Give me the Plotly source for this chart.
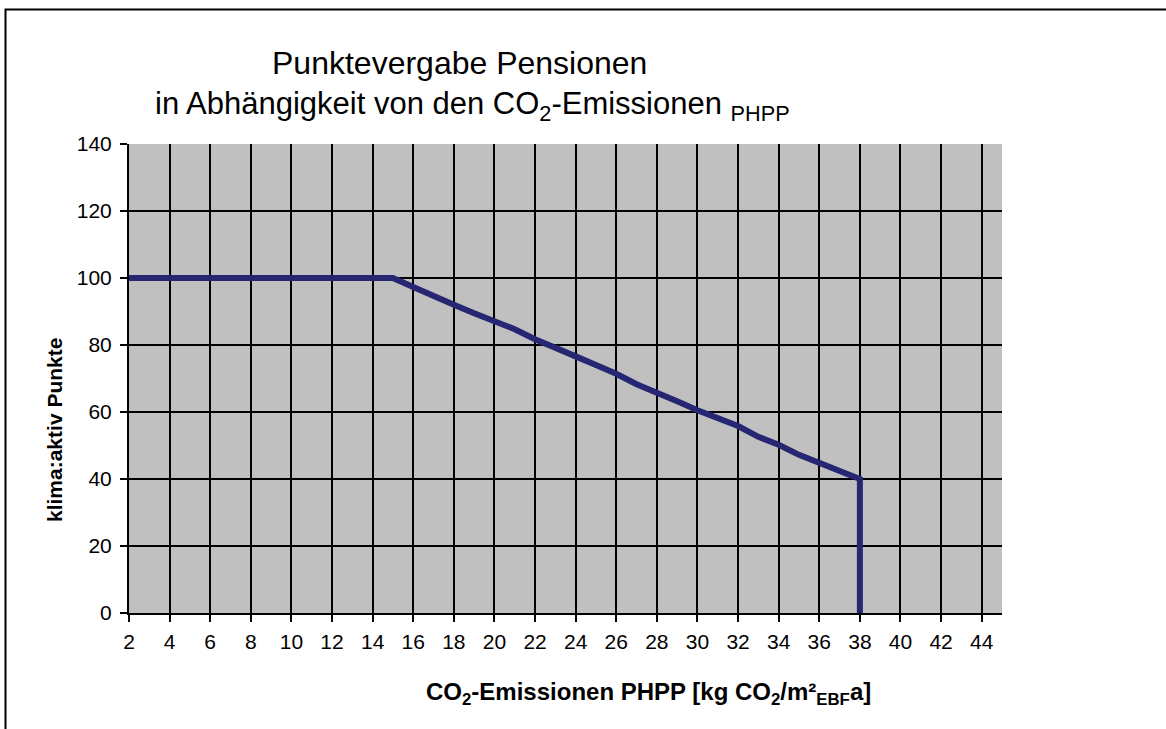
import plotly.graph_objects as go

# CO2-Emissionen PHPP [kg CO2/m²EBF a] und klima:aktiv Punkte
emissionen = [2, 3, 4, 5, 6, 7, 8, 9, 10, 11, 12, 13, 14, 15,
              16, 17, 18, 19, 20, 21, 22, 23, 24, 25, 26, 27,
              28, 29, 30, 31, 32, 33, 34, 35, 36, 37, 38, 38]
punkte = [100, 100, 100, 100, 100, 100, 100, 100, 100, 100, 100, 100, 100, 100,
          97.3, 94.5, 92, 89.5, 87, 84.7, 81.7, 79.3, 76.6, 74, 71.4, 68.3,
          65.9, 63.2, 60.5, 58.1, 55.8, 52.6, 50.2, 47.2, 44.8, 42.6, 40, 0]

x_ticks = list(range(2, 45, 2))
y_ticks = list(range(0, 141, 20))

W, H = 1166, 729
L, R, T, B = 129, 164, 144, 116
pw, ph = W - L - R, H - T - B


def px(x):
    return (x - L) / pw


def py(y):
    return (H - B - y) / ph


font = "Liberation Sans, Arial, sans-serif"
axis_style = dict(ticks='outside', ticklen=7, tickwidth=2, tickcolor='black',
                  showgrid=True, gridcolor='black', gridwidth=2,
                  showline=True, linecolor='black', linewidth=2,
                  zeroline=False, fixedrange=True,
                  tickfont=dict(size=21, family=font, color='black'))

fig = go.Figure()
fig.add_trace(go.Scatter(x=emissionen, y=punkte, mode='lines',
                         line=dict(color='#262673', width=6), showlegend=False))

fig.update_layout(
    width=W, height=H,
    margin=dict(l=L, r=R, t=T, b=B),
    paper_bgcolor='white',
    plot_bgcolor='#C0C0C0',
    font=dict(family=font, size=21, color='black'),
    xaxis=dict(range=[2, 45], tickvals=x_ticks, ticklabelstandoff=2, **axis_style),
    yaxis=dict(range=[0, 140], tickvals=y_ticks, ticklabelstandoff=4, **axis_style),
    shapes=[dict(type='rect', xref='paper', yref='paper',
                 x0=px(5.5), x1=px(1175), y0=py(9.5), y1=py(740),
                 line=dict(color='black', width=2), fillcolor='rgba(0,0,0,0)',
                 layer='above')],
    annotations=[
        dict(text='Punktevergabe Pensionen',
             xref='paper', yref='paper', x=px(459), y=py(43), xanchor='center',
             yanchor='top', showarrow=False, font=dict(size=32, family=font)),
        dict(text='in Abhängigkeit von den CO<sub>2</sub>-Emissionen <sub>PHPP</sub>',
             xref='paper', yref='paper', x=px(472), y=py(84), xanchor='center',
             yanchor='top', showarrow=False, font=dict(size=31, family=font)),
        dict(text='<b>klima:aktiv Punkte</b>', textangle=-90,
             xref='paper', yref='paper', x=px(54), y=py(430), xanchor='center',
             yanchor='middle', showarrow=False, font=dict(size=21, family=font)),
        dict(text='<b>CO<sub>2</sub>-Emissionen PHPP [kg CO<sub>2</sub>/m²<sub>EBF</sub>a]</b>',
             xref='paper', yref='paper', x=px(648), y=py(676), xanchor='center',
             yanchor='top', showarrow=False, font=dict(size=24, family=font)),
    ],
)

fig.write_html("out.html", config=dict(displayModeBar=False),
               post_script="document.body.style.margin='0';document.body.style.overflow='hidden';")
